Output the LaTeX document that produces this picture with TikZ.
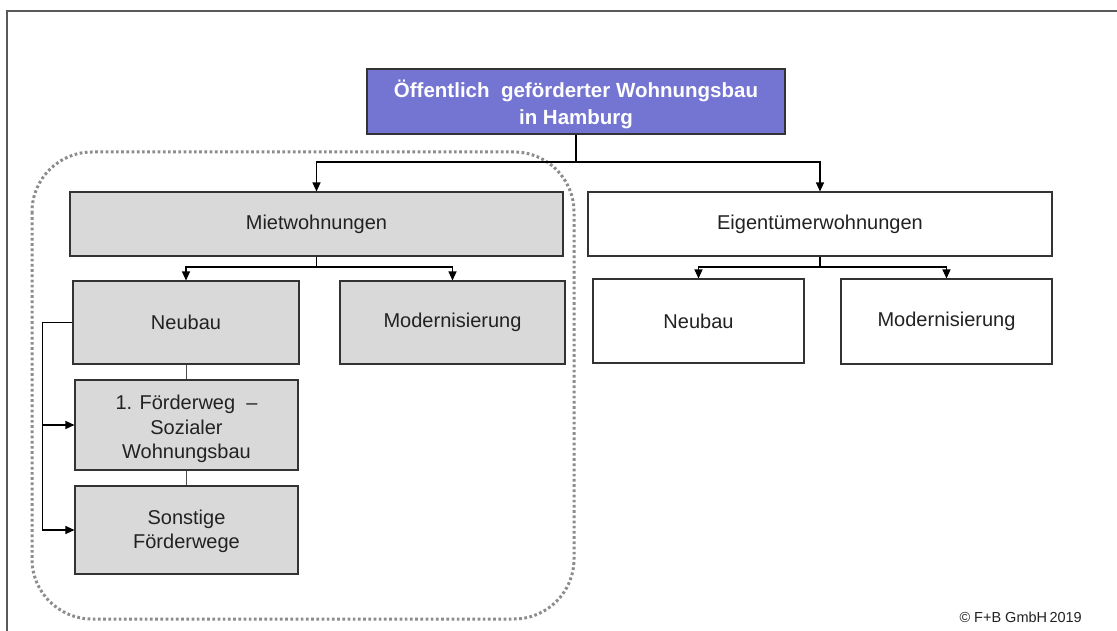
\documentclass[tikz,border=0pt]{standalone}
\usepackage{fontspec}
\setmainfont{Liberation Sans}
\usetikzlibrary{arrows.meta}
\definecolor{titlefill}{RGB}{116,116,210}
\definecolor{boxgray}{RGB}{217,217,217}
\definecolor{txt}{RGB}{34,34,34}
\definecolor{dotgray}{RGB}{140,140,140}
\begin{document}
\begin{tikzpicture}[x=1pt,y=-1pt,
  base/.style={draw=black!80, line width=1.1pt, inner sep=2pt, align=center,
    font=\fontsize{20}{24.5}\selectfont, text=txt},
  graybox/.style={base, fill=boxgray},
  whitebox/.style={base, fill=white},
  titlebox/.style={base, fill=titlefill},
  bodytext/.style={inner sep=0pt, align=center, font=\fontsize{20}{24.5}\selectfont, text=txt},
  titletext/.style={inner sep=0pt, align=center, text=white,
    font=\fontsize{20.5}{27}\selectfont\bfseries},
  conn/.style={draw=black, line width=1.2pt},
  arr/.style={conn, -{Triangle[width=8pt,length=9pt]}},
]
\useasboundingbox (0,0) rectangle (1117,631);
\fill[white] (0,0) rectangle (1117,631);
% frame
\draw[black!65, line width=1.2pt] (7,631) -- (7,11) -- (1117,11);
% dotted region
\draw[dotgray, line width=3pt, dash pattern=on 2.7pt off 2.5pt, rounded corners=60pt]
  (32,152) rectangle (574,619);
% nodes
\node[titlebox, minimum width=418pt, minimum height=65pt] (top) at (576,101.5) {};
\node[titletext] (toptext) at (576,104) {Öffentlich\ \ geförderter Wohnungsbau\\in Hamburg};
\node[graybox, minimum width=493pt, minimum height=64pt] (miet) at (316.5,224) {Mietwohnungen};
\node[whitebox, minimum width=464pt, minimum height=64pt] (eig) at (820,224) {Eigentümerwohnungen};
\node[graybox, minimum width=226pt, minimum height=83pt] (neuL) at (186,322.5) {Neubau};
\node[graybox, minimum width=225pt, minimum height=83pt] (modL) at (452.5,322.5) {Modernisierung};
\node[graybox, minimum width=223pt, minimum height=90pt] (f1) at (186.5,425) {};
\node[bodytext] (f1text) at (186.5,429) {1. Förderweg\ \ –\\Sozialer\\Wohnungsbau};
\node[graybox, minimum width=223pt, minimum height=88pt] (sonst) at (186.5,530) {};
\node[bodytext] (sonsttext) at (186.5,531.5) {Sonstige\\Förderwege};
\node[whitebox, minimum width=211pt, minimum height=84pt] (neuR) at (698.5,321) {Neubau};
\node[whitebox, minimum width=211pt, minimum height=85pt] (modR) at (946.5,321.5) {Modernisierung};
\node[anchor=east, font=\fontsize{14.5}{16}\selectfont, text=txt, inner sep=0pt] (copy) at (1082,617)
  {© F+B GmbH\,2019};
% connectors
\draw[conn] (top.south) -- (top.south |- 0,162) coordinate (j0);
\draw[arr] (j0) -| (miet.north);
\draw[arr] (j0) -| (eig.north);
\draw[conn] (miet.south) -- (miet.south |- 0,267) coordinate (j1);
\draw[arr] (j1) -| (neuL.north);
\draw[arr] (j1) -| (modL.north);
\draw[conn] (eig.south) -- (eig.south |- 0,267) coordinate (j2);
\draw[arr] (j2) -| (neuR.north);
\draw[arr] (j2) -| (modR.north);
\draw[conn, line width=0.9pt, black!70] (neuL.south) -- (neuL.south |- f1.north);
\draw[conn, line width=0.9pt, black!70] (f1.south) -- (f1.south |- sonst.north);
\draw[conn] (neuL.west) -- ++(-30,0) coordinate (b0);
\draw[arr] (b0) |- (f1.west);
\draw[arr] (b0) |- (sonst.west);
\end{tikzpicture}
\end{document}
